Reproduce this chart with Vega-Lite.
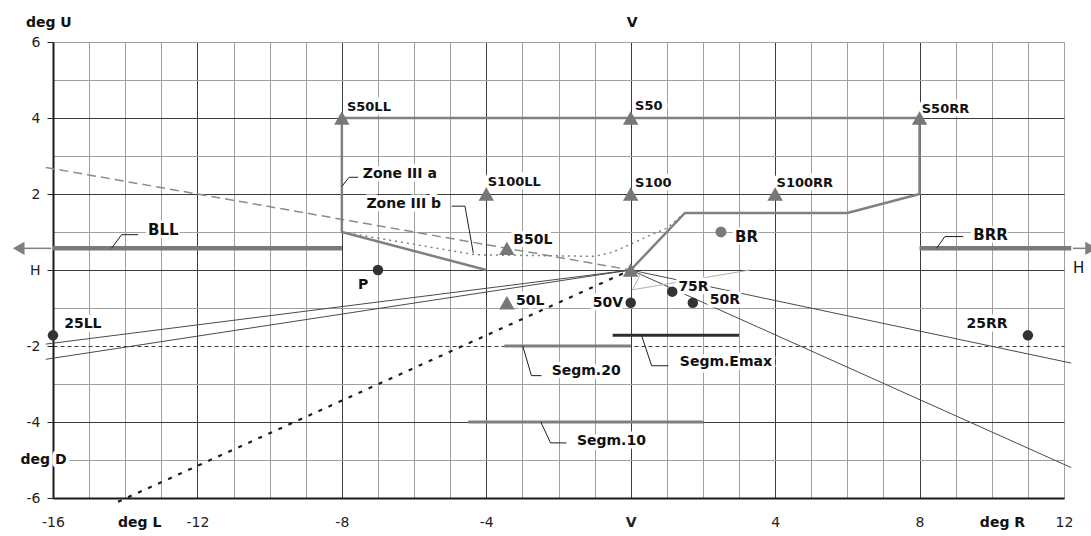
{
  "$schema": "https://vega.github.io/schema/vega-lite/v6.json",
  "width": 1011,
  "height": 456,
  "autosize": {"type": "none"},
  "padding": {"left": 53, "top": 42, "right": 27, "bottom": 38},
  "background": "white",
  "config": {"view": {"stroke": null}},
  "datasets": {
    "lines": [
      {"id": "zone3", "o": 0, "x": -4, "y": 0},
      {"id": "zone3", "o": 1, "x": -8, "y": 1},
      {"id": "zone3", "o": 2, "x": -8, "y": 4},
      {"id": "zone3", "o": 3, "x": 8, "y": 4},
      {"id": "zone3", "o": 4, "x": 8, "y": 2},
      {"id": "zone3", "o": 5, "x": 6, "y": 1.5},
      {"id": "zone3", "o": 6, "x": 1.5, "y": 1.5},
      {"id": "zone3", "o": 7, "x": 0, "y": 0},
      {"id": "zone3a", "o": 0, "x": -16.2, "y": 2.7},
      {"id": "zone3a", "o": 1, "x": 0, "y": 0},
      {"id": "zone3b", "o": 0, "x": -8, "y": 1},
      {"id": "zone3b", "o": 1, "x": -4.3, "y": 0.4},
      {"id": "zone3b", "o": 2, "x": -1, "y": 0.36},
      {"id": "zone3b", "o": 3, "x": -0.5, "y": 0.47},
      {"id": "zone3b", "o": 4, "x": 0, "y": 0.68},
      {"id": "zone3b", "o": 5, "x": 0.5, "y": 0.9},
      {"id": "zone3b", "o": 6, "x": 1, "y": 1.1},
      {"id": "zone3b", "o": 7, "x": 1.5, "y": 1.5},
      {"id": "l25a", "o": 0, "x": -16.2, "y": -1.95},
      {"id": "l25a", "o": 1, "x": 0, "y": 0},
      {"id": "l25b", "o": 0, "x": -16.2, "y": -2.35},
      {"id": "l25b", "o": 1, "x": 0, "y": 0},
      {"id": "r1", "o": 0, "x": 0, "y": 0},
      {"id": "r1", "o": 1, "x": 12.2, "y": -2.45},
      {"id": "r2", "o": 0, "x": 0, "y": 0},
      {"id": "r2", "o": 1, "x": 12.2, "y": -5.2},
      {"id": "tri", "o": 0, "x": 0.3, "y": -0.05},
      {"id": "tri", "o": 1, "x": 0.05, "y": -0.52},
      {"id": "tri", "o": 2, "x": 3.3, "y": 0},
      {"id": "dots", "o": 0, "x": -14.2, "y": -6.1},
      {"id": "dots", "o": 1, "x": 0, "y": 0},
      {"id": "segm20", "o": 0, "x": -3.5, "y": -2},
      {"id": "segm20", "o": 1, "x": 0, "y": -2},
      {"id": "segm10", "o": 0, "x": -4.5, "y": -4},
      {"id": "segm10", "o": 1, "x": 2, "y": -4},
      {"id": "emax", "o": 0, "x": -0.5, "y": -1.72},
      {"id": "emax", "o": 1, "x": 3, "y": -1.72},
      {"id": "bll", "o": 0, "x": -16, "y": 0.57},
      {"id": "bll", "o": 1, "x": -8, "y": 0.57},
      {"id": "brr", "o": 0, "x": 8, "y": 0.57},
      {"id": "brr", "o": 1, "x": 12.2, "y": 0.57},
      {"id": "arrL", "o": 0, "x": -16.85, "y": 0.57},
      {"id": "arrL", "o": 1, "x": -16.05, "y": 0.57},
      {"id": "arrR", "o": 0, "x": 12.25, "y": 0.57},
      {"id": "arrR", "o": 1, "x": 12.65, "y": 0.57},
      {"id": "ld_za", "o": 0, "x": -8, "y": 2.2},
      {"id": "ld_za", "o": 1, "x": -7.8, "y": 2.44},
      {"id": "ld_za", "o": 2, "x": -7.55, "y": 2.44},
      {"id": "ld_zb", "o": 0, "x": -4.96, "y": 1.68},
      {"id": "ld_zb", "o": 1, "x": -4.59, "y": 1.68},
      {"id": "ld_zb", "o": 2, "x": -4.36, "y": 0.45},
      {"id": "ld_bll", "o": 0, "x": -14.38, "y": 0.57},
      {"id": "ld_bll", "o": 1, "x": -14.1, "y": 0.93},
      {"id": "ld_bll", "o": 2, "x": -13.64, "y": 0.93},
      {"id": "ld_brr", "o": 0, "x": 8.47, "y": 0.57},
      {"id": "ld_brr", "o": 1, "x": 8.7, "y": 0.88},
      {"id": "ld_brr", "o": 2, "x": 9.21, "y": 0.88},
      {"id": "ld_s20", "o": 0, "x": -2.99, "y": -2},
      {"id": "ld_s20", "o": 1, "x": -2.75, "y": -2.78},
      {"id": "ld_s20", "o": 2, "x": -2.47, "y": -2.78},
      {"id": "ld_emax", "o": 0, "x": 0.3, "y": -1.72},
      {"id": "ld_emax", "o": 1, "x": 0.58, "y": -2.52},
      {"id": "ld_emax", "o": 2, "x": 1.04, "y": -2.52},
      {"id": "ld_s10", "o": 0, "x": -2.49, "y": -4},
      {"id": "ld_s10", "o": 1, "x": -2.22, "y": -4.55},
      {"id": "ld_s10", "o": 2, "x": -1.78, "y": -4.55}
    ],
    "points": [
      {"name": "S50LL", "x": -8, "y": 4, "kind": "tri"},
      {"name": "S50", "x": 0, "y": 4, "kind": "tri"},
      {"name": "S50RR", "x": 8, "y": 4, "kind": "tri"},
      {"name": "S100LL", "x": -4, "y": 2, "kind": "tri"},
      {"name": "S100", "x": 0, "y": 2, "kind": "tri"},
      {"name": "S100RR", "x": 4, "y": 2, "kind": "tri"},
      {"name": "B50L", "x": -3.43, "y": 0.57, "kind": "tri"},
      {"name": "50L", "x": -3.43, "y": -0.86, "kind": "tri"},
      {"name": "HV", "x": 0, "y": 0, "kind": "tri"},
      {"name": "P", "x": -7, "y": 0, "kind": "dot"},
      {"name": "25LL", "x": -16, "y": -1.72, "kind": "dot"},
      {"name": "25RR", "x": 11, "y": -1.72, "kind": "dot"},
      {"name": "75R", "x": 1.15, "y": -0.57, "kind": "dot"},
      {"name": "50R", "x": 1.72, "y": -0.86, "kind": "dot"},
      {"name": "50V", "x": 0, "y": -0.86, "kind": "dot"},
      {"name": "BR", "x": 2.5, "y": 1, "kind": "gdot"},
      {"name": "BLL arrow", "x": -16.95, "y": 0.57, "kind": "arrL"},
      {"name": "BRR arrow", "x": 12.75, "y": 0.57, "kind": "arrR"}
    ],
    "labels": [
      {"t": "S50LL", "x": -7.86, "y": 4.29, "cls": "b13"},
      {"t": "S50", "x": 0.12, "y": 4.31, "cls": "b13"},
      {"t": "S50RR", "x": 8.06, "y": 4.23, "cls": "b13"},
      {"t": "S100LL", "x": -3.96, "y": 2.31, "cls": "b13"},
      {"t": "S100", "x": 0.12, "y": 2.3, "cls": "b13"},
      {"t": "S100RR", "x": 4.04, "y": 2.3, "cls": "b13"},
      {"t": "B50L", "x": -3.25, "y": 0.78, "cls": "b14"},
      {"t": "50L", "x": -3.18, "y": -0.82, "cls": "b14"},
      {"t": "50V", "x": -1.05, "y": -0.88, "cls": "b14"},
      {"t": "75R", "x": 1.32, "y": -0.45, "cls": "b14"},
      {"t": "50R", "x": 2.19, "y": -0.79, "cls": "b14"},
      {"t": "BR", "x": 2.89, "y": 0.86, "cls": "b15"},
      {"t": "BLL", "x": -13.37, "y": 1.05, "cls": "b15"},
      {"t": "BRR", "x": 9.49, "y": 0.93, "cls": "b15"},
      {"t": "P", "x": -7.55, "y": -0.4, "cls": "b14"},
      {"t": "25LL", "x": -15.69, "y": -1.43, "cls": "b14"},
      {"t": "25RR", "x": 9.3, "y": -1.41, "cls": "b14"},
      {"t": "Zone III a", "x": -7.42, "y": 2.53, "cls": "b14"},
      {"t": "Zone III b", "x": -7.32, "y": 1.75, "cls": "b14"},
      {"t": "Segm.20", "x": -2.19, "y": -2.67, "cls": "b14"},
      {"t": "Segm.Emax", "x": 1.36, "y": -2.41, "cls": "b14"},
      {"t": "Segm.10", "x": -1.49, "y": -4.49, "cls": "b14"},
      {"t": "deg U", "x": -16.75, "y": 6.51, "cls": "b14"},
      {"t": "deg D", "x": -16.9, "y": -5.01, "cls": "b14"},
      {"t": "deg L", "x": -14.2, "y": -6.66, "cls": "b14"},
      {"t": "deg R", "x": 9.67, "y": -6.66, "cls": "b14"},
      {"t": "V", "x": -0.11, "y": 6.51, "cls": "b14"},
      {"t": "H", "x": 12.25, "y": 0.04, "cls": "r14"}
    ]
  },
  "encoding": {
    "x": {
      "field": "x", "type": "quantitative",
      "scale": {"domain": [-16, 12], "nice": false, "zero": false},
      "axis": {
        "values": [-16,-15,-14,-13,-12,-11,-10,-9,-8,-7,-6,-5,-4,-3,-2,-1,0,1,2,3,4,5,6,7,8,9,10,11,12],
        "grid": true,
        "gridColor": {"condition": {"test": "datum.value % 4 === 0 && datum.value !== 12", "value": "#3c3c3c"}, "value": "#a0a0a0"},
        "gridWidth": 1,
        "ticks": false,
        "domainColor": "#1a1a1a",
        "domainWidth": 2,
        "labelExpr": "datum.value === 0 ? 'V' : (datum.value % 4 === 0 ? '' + datum.value : '')",
        "labelFont": "DejaVu Sans",
        "labelFontSize": 14,
        "labelColor": "#222222",
        "labelFontWeight": {"condition": {"test": "datum.value === 0", "value": "bold"}, "value": "normal"},
        "labelPadding": 17,
        "labelFlush": false,
        "labelOverlap": false,
        "title": null
      }
    },
    "y": {
      "field": "y", "type": "quantitative",
      "scale": {"domain": [-6, 6], "nice": false, "zero": false},
      "axis": {
        "values": [-6,-5,-4,-3,-2,-1,0,1,2,3,4,5,6],
        "grid": true,
        "gridColor": {"condition": {"test": "datum.value % 2 === 0 && datum.value !== 6", "value": "#3c3c3c"}, "value": "#a0a0a0"},
        "gridDash": {"condition": {"test": "datum.value === -2", "value": [4, 3]}, "value": []},
        "gridWidth": 1,
        "tickSize": 6,
        "tickColor": {"condition": {"test": "datum.value % 2 === 0", "value": "#222222"}, "value": "rgba(0,0,0,0)"},
        "domainColor": "#1a1a1a",
        "domainWidth": 2,
        "labelExpr": "datum.value === 0 ? 'H' : (datum.value % 2 === 0 ? '' + datum.value : '')",
        "labelFont": "DejaVu Sans",
        "labelFontSize": 14,
        "labelColor": "#222222",
        "labelPadding": 7,
        "labelFlush": false,
        "labelOverlap": false,
        "title": null
      }
    }
  },
  "layer": [
    {
      "data": {"name": "lines"},
      "transform": [{"filter": {"field": "id", "oneOf": ["zone3a"]}}],
      "mark": {"type": "line", "color": "#8c8c8c", "strokeWidth": 1.5, "strokeDash": [9, 5]},
      "encoding": {"detail": {"field": "id"}, "order": {"field": "o"}}
    },
    {
      "data": {"name": "lines"},
      "transform": [{"filter": {"field": "id", "oneOf": ["zone3b"]}}],
      "mark": {"type": "line", "color": "#808080", "strokeWidth": 1.5, "strokeDash": [2, 4]},
      "encoding": {"detail": {"field": "id"}, "order": {"field": "o"}}
    },
    {
      "data": {"name": "lines"},
      "transform": [{"filter": {"field": "id", "oneOf": ["l25a", "l25b", "r1", "r2"]}}],
      "mark": {"type": "line", "color": "#4a4a4a", "strokeWidth": 1},
      "encoding": {"detail": {"field": "id"}, "order": {"field": "o"}}
    },
    {
      "data": {"name": "lines"},
      "transform": [{"filter": {"field": "id", "oneOf": ["tri"]}}],
      "mark": {"type": "line", "color": "#b0b0b0", "strokeWidth": 1},
      "encoding": {"detail": {"field": "id"}, "order": {"field": "o"}}
    },
    {
      "data": {"name": "lines"},
      "transform": [{"filter": {"field": "id", "oneOf": ["dots"]}}],
      "mark": {"type": "line", "color": "#1e1e1e", "strokeWidth": 2.2, "strokeDash": [4, 7]},
      "encoding": {"detail": {"field": "id"}, "order": {"field": "o"}}
    },
    {
      "data": {"name": "lines"},
      "transform": [{"filter": {"field": "id", "oneOf": ["zone3"]}}],
      "mark": {"type": "line", "color": "#808080", "strokeWidth": 2.5},
      "encoding": {"detail": {"field": "id"}, "order": {"field": "o"}}
    },
    {
      "data": {"name": "lines"},
      "transform": [{"filter": {"field": "id", "oneOf": ["segm20", "segm10"]}}],
      "mark": {"type": "line", "color": "#7f7f7f", "strokeWidth": 3},
      "encoding": {"detail": {"field": "id"}, "order": {"field": "o"}}
    },
    {
      "data": {"name": "lines"},
      "transform": [{"filter": {"field": "id", "oneOf": ["bll", "brr"]}}],
      "mark": {"type": "line", "color": "#7a7a7a", "strokeWidth": 4.5},
      "encoding": {"detail": {"field": "id"}, "order": {"field": "o"}}
    },
    {
      "data": {"name": "lines"},
      "transform": [{"filter": {"field": "id", "oneOf": ["emax"]}}],
      "mark": {"type": "line", "color": "#2e2e2e", "strokeWidth": 3},
      "encoding": {"detail": {"field": "id"}, "order": {"field": "o"}}
    },
    {
      "data": {"name": "lines"},
      "transform": [{"filter": {"field": "id", "oneOf": ["arrL", "arrR"]}}],
      "mark": {"type": "line", "color": "#808080", "strokeWidth": 1.5},
      "encoding": {"detail": {"field": "id"}, "order": {"field": "o"}}
    },
    {
      "data": {"name": "labels"},
      "transform": [{"filter": {"field": "cls", "oneOf": ["b13", "b14", "b15"]}}],
      "mark": {"type": "text", "align": "left", "baseline": "middle", "font": "DejaVu Sans", "fontWeight": "bold", "fontSize": 14, "fill": "white", "stroke": "white", "strokeWidth": 7, "strokeJoin": "round"},
      "encoding": {"text": {"field": "t"}}
    },
    {
      "data": {"name": "lines"},
      "transform": [{"filter": {"field": "id", "oneOf": ["ld_za", "ld_zb", "ld_bll", "ld_brr", "ld_s20", "ld_emax", "ld_s10"]}}],
      "mark": {"type": "line", "color": "#1e1e1e", "strokeWidth": 1},
      "encoding": {"detail": {"field": "id"}, "order": {"field": "o"}}
    },
    {
      "data": {"name": "points"},
      "mark": {"type": "point", "filled": true, "opacity": 1},
      "encoding": {
        "shape": {"field": "kind", "type": "nominal", "scale": {"domain": ["tri", "dot", "gdot", "arrL", "arrR"], "range": ["triangle-up", "circle", "circle", "triangle-left", "triangle-right"]}, "legend": null},
        "color": {"field": "kind", "type": "nominal", "scale": {"domain": ["tri", "dot", "gdot", "arrL", "arrR"], "range": ["#777777", "#333333", "#7a7a7a", "#7f7f7f", "#7f7f7f"]}, "legend": null},
        "size": {"field": "kind", "type": "nominal", "scale": {"type": "ordinal", "domain": ["tri", "dot", "gdot", "arrL", "arrR"], "range": [240, 110, 120, 180, 180]}, "legend": null}
      }
    },
    {
      "data": {"name": "labels"},
      "transform": [{"filter": {"field": "cls", "equal": "b13"}}],
      "mark": {"type": "text", "align": "left", "baseline": "middle", "font": "DejaVu Sans", "fontWeight": "bold", "fontSize": 13, "color": "#111111"},
      "encoding": {"text": {"field": "t"}}
    },
    {
      "data": {"name": "labels"},
      "transform": [{"filter": {"field": "cls", "equal": "b14"}}],
      "mark": {"type": "text", "align": "left", "baseline": "middle", "font": "DejaVu Sans", "fontWeight": "bold", "fontSize": 14, "color": "#111111"},
      "encoding": {"text": {"field": "t"}}
    },
    {
      "data": {"name": "labels"},
      "transform": [{"filter": {"field": "cls", "equal": "b15"}}],
      "mark": {"type": "text", "align": "left", "baseline": "middle", "font": "DejaVu Sans", "fontWeight": "bold", "fontSize": 15, "color": "#111111"},
      "encoding": {"text": {"field": "t"}}
    },
    {
      "data": {"name": "labels"},
      "transform": [{"filter": {"field": "cls", "equal": "r14"}}],
      "mark": {"type": "text", "align": "left", "baseline": "middle", "font": "DejaVu Sans", "fontSize": 15, "color": "#111111"},
      "encoding": {"text": {"field": "t"}}
    }
  ]
}
